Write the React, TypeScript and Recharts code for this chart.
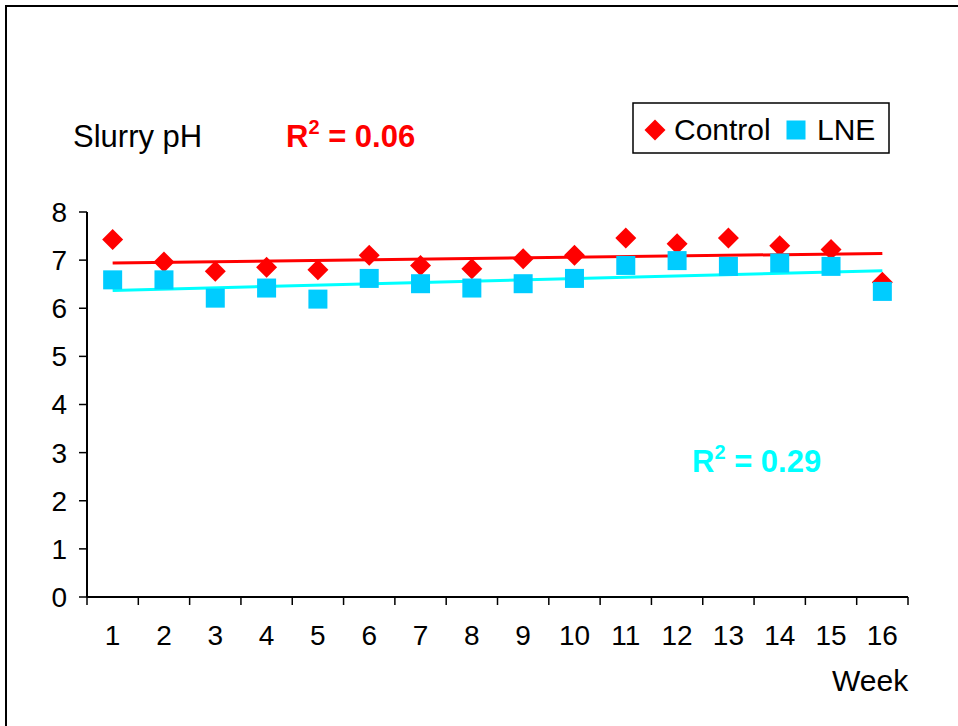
import { ComposedChart, Line, XAxis, YAxis, Legend } from 'recharts';

const weeks = ['1', '2', '3', '4', '5', '6', '7', '8', '9', '10', '11', '12', '13', '14', '15', '16'];
const control = [7.43, 6.96, 6.77, 6.85, 6.8, 7.1, 6.89, 6.82, 7.03, 7.1, 7.46, 7.34, 7.46, 7.3, 7.22, 6.54];
const lne = [6.59, 6.59, 6.21, 6.42, 6.19, 6.62, 6.51, 6.42, 6.51, 6.62, 6.89, 6.99, 6.87, 6.94, 6.87, 6.35];
// linear trend end points (week 1, week 16)
const controlTrend = [6.94, 7.14];
const lneTrend = [6.37, 6.78];
const yTicks = [0, 1, 2, 3, 4, 5, 6, 7, 8];

const FONT = '"Liberation Sans", Arial, sans-serif';
const RED = '#ff0000';
const BLUE = '#00ccff';
const CYAN = '#00ffff';

const W = 958;
const H = 726;
const PLOT_LEFT = 87;
const PLOT_RIGHT = 908;
const PLOT_TOP = 212;
const PLOT_BOTTOM = 597;
const BAND = (PLOT_RIGHT - PLOT_LEFT) / weeks.length;

const last = weeks.length - 1;
const data = weeks.map((week, i) => ({
  week,
  control: control[i],
  lne: lne[i],
  controlTrend: i === 0 ? controlTrend[0] : i === last ? controlTrend[1] : null,
  lneTrend: i === 0 ? lneTrend[0] : i === last ? lneTrend[1] : null,
}));

function Diamond({ cx, cy, fill }: any) {
  if (cx == null || cy == null) return null;
  const r = 10.5;
  return <polygon points={`${cx},${cy - r} ${cx + r},${cy} ${cx},${cy + r} ${cx - r},${cy}`} fill={fill} />;
}

function Square({ cx, cy, fill }: any) {
  if (cx == null || cy == null) return null;
  const s = 19;
  return <rect x={cx - s / 2} y={cy - s / 2} width={s} height={s} fill={fill} />;
}

function WeekTick({ x, y, payload, index }: any) {
  const left = x - BAND / 2;
  return (
    <g>
      <line x1={left} y1={y} x2={left} y2={y + 8} stroke="#000" strokeWidth={1.5} />
      {index === last && <line x1={x + BAND / 2} y1={y} x2={x + BAND / 2} y2={y + 8} stroke="#000" strokeWidth={1.5} />}
      <text x={x} y={y + 48} textAnchor="middle" fontSize={28} fontFamily={FONT} fill="#000">
        {payload.value}
      </text>
    </g>
  );
}

function LegendBox() {
  return (
    <svg width={259} height={53}>
      <rect x={1} y={1} width={256} height={50} fill="#fff" stroke="#000" strokeWidth={1.5} />
      <Diamond cx={23} cy={28} fill={RED} />
      <text x={42} y={38} fontSize={30} fontFamily={FONT}>Control</text>
      <Square cx={164} cy={28} fill={BLUE} />
      <text x={185} y={38} fontSize={30} fontFamily={FONT}>LNE</text>
    </svg>
  );
}

function RSquared({ x, y, color, value }: { x: number; y: number; color: string; value: string }) {
  return (
    <text x={x} y={y} fill={color} fontSize={31} fontWeight="bold" fontFamily={FONT}>
      R
      <tspan fontSize={20} dy={-13}>2</tspan>
      <tspan dy={13}>{` = ${value}`}</tspan>
    </text>
  );
}

export default function App() {
  return (
    <div style={{ position: 'absolute', left: 0, top: 0, width: W, height: H, overflow: 'hidden', background: '#fff' }}>
      <div
        style={{
          position: 'absolute',
          left: 5,
          top: 5,
          width: 2000,
          height: 2000,
          borderLeft: '2px solid #000',
          borderTop: '2px solid #000',
        }}
      />
      <div style={{ position: 'absolute', left: 0, top: 0 }}>
        <ComposedChart
          width={W}
          height={H}
          data={data}
          margin={{ top: PLOT_TOP, right: W - PLOT_RIGHT, bottom: H - PLOT_BOTTOM - 60, left: PLOT_LEFT - 60 }}
        >
          <XAxis
            dataKey="week"
            height={60}
            padding={{ left: BAND / 2, right: BAND / 2 }}
            axisLine={{ stroke: '#000', strokeWidth: 2 }}
            tickLine={false}
            tickSize={0}
            tickMargin={0}
            interval={0}
            tick={<WeekTick />}
          />
          <YAxis
            width={60}
            domain={[0, 8]}
            ticks={yTicks}
            interval={0}
            axisLine={{ stroke: '#000', strokeWidth: 2 }}
            tickLine={{ stroke: '#000', strokeWidth: 1.5 }}
            tickSize={8}
            tickMargin={12}
            tick={{ fill: '#000', fontSize: 28, fontFamily: FONT }}
          />
          <Legend
            layout="horizontal"
            verticalAlign="middle"
            align="center"
            wrapperStyle={{ left: 632, top: 102, width: 259, height: 53 }}
            content={() => <LegendBox />}
          />
          <Line dataKey="controlTrend" name="Control trend" stroke={RED} strokeWidth={3} dot={false} activeDot={false} connectNulls legendType="none" isAnimationActive={false} />
          <Line dataKey="lneTrend" name="LNE trend" stroke={CYAN} strokeWidth={3} dot={false} activeDot={false} connectNulls legendType="none" isAnimationActive={false} />
          <Line dataKey="control" name="Control" stroke="none" dot={<Diamond fill={RED} />} activeDot={false} isAnimationActive={false} />
          <Line dataKey="lne" name="LNE" stroke="none" dot={<Square fill={BLUE} />} activeDot={false} isAnimationActive={false} />
          <text x={73} y={147} fontSize={31} fontFamily={FONT} fill="#000">Slurry pH</text>
          <RSquared x={286} y={147} color={RED} value="0.06" />
          <RSquared x={692} y={472} color={CYAN} value="0.29" />
          <text x={832} y={691} fontSize={30} fontFamily={FONT} fill="#000">Week</text>
        </ComposedChart>
      </div>
    </div>
  );
}
